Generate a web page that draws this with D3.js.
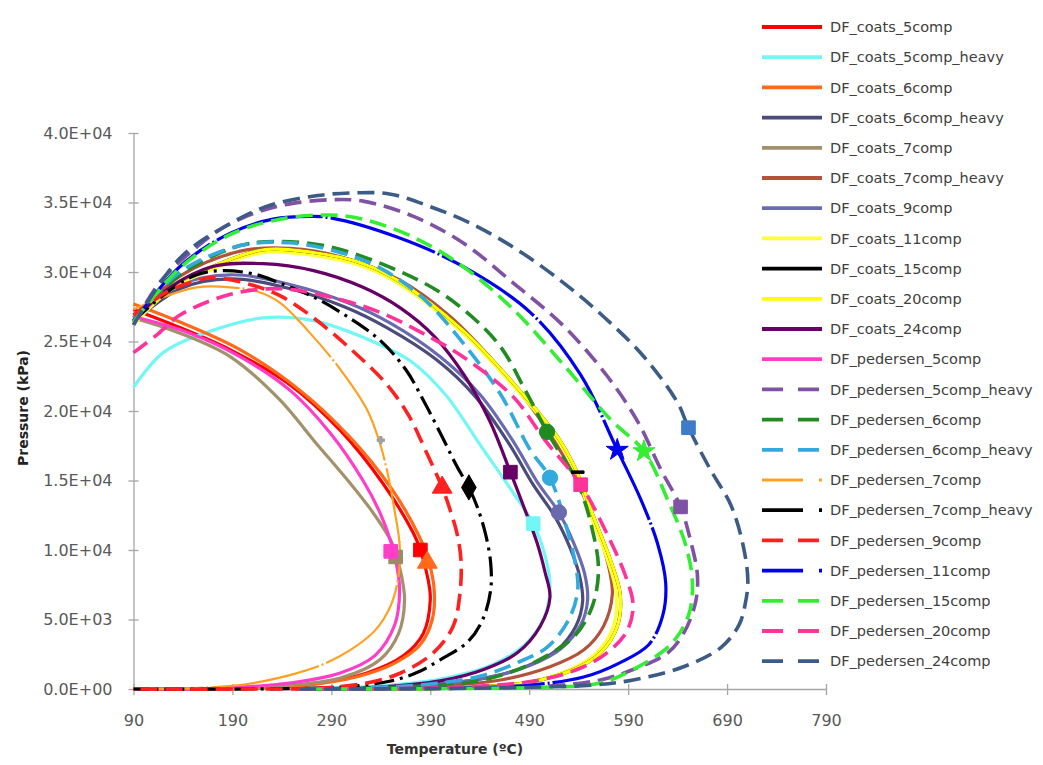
<!DOCTYPE html>
<html>
<head>
<meta charset="utf-8">
<script src="https://cdn.jsdelivr.net/npm/d3@7"></script>
<style>
  body { margin: 0; background: #fff; }
  text { font-family: "DejaVu Sans", sans-serif; }
</style>
</head>
<body>
<div id="chart"></div>
<script>
// Legend / series names, in drawing order
var seriesNames = [
  "DF_coats_5comp", "DF_coats_5comp_heavy", "DF_coats_6comp", "DF_coats_6comp_heavy",
  "DF_coats_7comp", "DF_coats_7comp_heavy", "DF_coats_9comp", "DF_coats_11comp",
  "DF_coats_15comp", "DF_coats_20comp", "DF_coats_24comp",
  "DF_pedersen_5comp", "DF_pedersen_5comp_heavy", "DF_pedersen_6comp", "DF_pedersen_6comp_heavy",
  "DF_pedersen_7comp", "DF_pedersen_7comp_heavy", "DF_pedersen_9comp", "DF_pedersen_11comp",
  "DF_pedersen_15comp", "DF_pedersen_20comp", "DF_pedersen_24comp"
];

// Phase envelopes: [temperature (C), pressure (kPa)]
var coats_5comp = [[90,27300],[137,26000],[188,24400],[248,21900],[299,18600],[342,14800],[373,11200],[380,10000],[388,7800],[390,6400],[383,4000],[363,2400],[326,1150],[279,430],[208,70],[90,0]];
var coats_5comp_heavy = [[90,21700],[120,24200],[170,25800],[221,26700],[272,26500],[322,25300],[370,23600],[405,21200],[441,17500],[474,14100],[494,11900],[506,9600],[511,7500],[506,5300],[486,3200],[451,1700],[400,720],[339,220],[258,0]];
var coats_6comp = [[90,27700],[137,26400],[198,24400],[258,21500],[309,18100],[350,14500],[378,11100],[388,9300],[394,7100],[392,5000],[380,3200],[355,1900],[319,940],[258,220],[157,0],[90,0]];
var coats_6comp_heavy = [[90,26400],[137,28800],[188,29500],[248,28800],[303,27500],[346,26000],[396,23700],[436,21000],[470,17600],[494,14700],[516,12400],[531,10200],[541,8100],[544,6300],[537,4500],[518,2800],[488,1650],[448,820],[387,270],[289,0]];
var coats_7comp = [[90,26700],[137,25600],[188,23900],[238,20800],[272,17900],[309,14800],[332,12700],[350,10700],[355,9800],[361,8100],[364,6400],[358,4000],[339,2100],[299,790],[238,220],[137,0]];
var coats_7comp_heavy = [[90,26700],[137,29700],[198,31500],[248,31700],[299,31100],[357,29500],[410,26800],[461,23000],[501,19400],[532,15800],[557,11800],[570,8900],[574,6800],[565,4500],[545,2800],[511,1600],[461,650],[380,140],[258,0]];
var coats_9comp = [[90,26700],[137,29100],[188,29800],[248,29100],[306,27800],[350,26300],[400,23900],[440,21200],[474,17800],[498,14900],[520,12700],[535,10500],[546,8300],[549,6400],[542,4600],[522,2900],[491,1700],[451,860],[390,290],[289,0]];
var coats_11comp = [[90,26200],[127,28700],[170,30200],[221,31400],[272,31200],[322,30400],[357,29200],[423,25600],[474,21800],[519,17900],[537,15600],[553,12300],[569,9300],[578,6800],[575,4500],[558,2600],[531,1400],[489,500],[410,70],[258,0]];
var coats_15comp = [[90,26400],[127,28900],[170,30400],[221,31600],[272,31400],[322,30600],[357,29400],[423,25800],[474,22000],[519,18100],[537,15800],[555,12400],[572,9300],[582,6800],[579,4500],[562,2600],[535,1400],[491,500],[410,70],[258,0]];
var coats_20comp = [[90,26400],[127,28900],[170,30400],[221,31600],[272,31400],[322,30600],[357,29400],[423,25800],[474,22000],[519,18100],[537,15800],[555,12400],[572,9300],[582,6800],[579,4500],[562,2600],[535,1400],[491,500],[410,70],[258,0]];
var coats_24comp = [[90,26500],[127,28900],[170,30400],[221,30600],[272,30100],[322,28900],[360,27400],[395,25300],[425,22500],[450,19300],[471,15600],[484,13200],[498,10500],[506,8400],[511,6600],[501,4500],[478,2600],[444,1400],[400,580],[339,140],[258,0]];

var pedersen_5comp = [[90,26800],[147,25600],[198,23900],[248,21500],[289,18400],[322,15000],[339,12700],[351,10400],[356,8900],[359,7100],[354,4600],[334,2400],[299,1150],[248,430],[178,70],[107,0]];
var pedersen_5comp_heavy = [[90,26200],[117,29300],[154,31800],[181,33200],[215,34300],[248,34900],[289,35200],[322,35100],[373,34000],[423,32100],[474,29200],[525,26100],[569,22500],[600,19200],[623,15800],[643,13100],[653,10700],[660,8200],[658,6200],[646,4000],[630,2600],[595,1400],[562,650],[511,220],[410,40],[258,0]];
var pedersen_6comp = [[90,26500],[137,29800],[198,31900],[238,32200],[289,31800],[357,30100],[407,28200],[458,24900],[486,21500],[508,18500],[539,14800],[554,11400],[560,8600],[554,6000],[537,3900],[508,2400],[471,1200],[431,500],[360,140],[258,0]];
var pedersen_6comp_heavy = [[90,26500],[137,30000],[198,31900],[248,32100],[299,31400],[339,30300],[383,28100],[423,24900],[461,21200],[491,17200],[511,15200],[527,11800],[537,8900],[539,7100],[530,5000],[508,3000],[478,1900],[441,940],[380,290],[258,0]];
var pedersen_7comp = [[90,27300],[120,28200],[154,28900],[188,28900],[215,28600],[238,27800],[266,25800],[299,23000],[326,20100],[339,17700],[346,15800],[353,13200],[359,10400],[358,8200],[350,6000],[334,4200],[309,2800],[279,1700],[248,1000],[205,360],[154,70],[107,0]];
var pedersen_7comp_heavy = [[90,26500],[127,28700],[154,29800],[181,30100],[215,29800],[238,29200],[272,28200],[306,26800],[339,25100],[365,23000],[385,20500],[403,18000],[417,16000],[429,14500],[438,13000],[446,11100],[451,9100],[451,7100],[443,5000],[428,3400],[400,2100],[377,1200],[350,580],[299,140],[208,0],[90,0]];
var pedersen_9comp = [[90,26900],[122,28500],[154,29400],[172,29600],[208,29100],[238,28300],[272,26700],[312,24300],[345,22000],[368,19700],[385,17200],[402,14500],[410,12900],[417,11200],[421,9300],[420,6900],[413,4500],[393,2600],[360,1150],[326,430],[279,70],[208,0],[90,0]];
var pedersen_11comp = [[90,26400],[137,30400],[188,32800],[231,33800],[269,34000],[289,33900],[357,32500],[423,30400],[491,27100],[542,22600],[579,17200],[603,13600],[620,10400],[628,7600],[625,5300],[611,3200],[582,1900],[545,860],[491,290],[410,70],[258,0]];
var pedersen_15comp = [[90,26400],[137,30300],[188,32700],[238,33800],[289,34100],[322,33800],[373,32500],[423,30400],[474,27300],[525,23300],[572,19400],[606,17100],[630,13600],[648,10400],[655,7600],[651,5300],[633,3200],[595,1400],[562,430],[511,140],[410,40],[258,0]];
var pedersen_20comp = [[90,24200],[114,25500],[137,26900],[188,28400],[238,28800],[289,28200],[339,27100],[390,25300],[423,23900],[474,21000],[506,17900],[542,14700],[567,11400],[587,8200],[595,6000],[589,4200],[572,2800],[545,1600],[501,650],[420,140],[258,0]];
var pedersen_24comp = [[90,26200],[137,31000],[188,33500],[228,34800],[276,35500],[316,35700],[350,35600],[390,34700],[431,33500],[478,31600],[525,29200],[565,26800],[606,23900],[640,20600],[651,18800],[673,15800],[694,13200],[706,10400],[711,7800],[708,6000],[702,4600],[684,3000],[646,1600],[595,650],[555,290],[501,140],[410,40],[258,0]];

var envelopes = [
  coats_5comp, coats_5comp_heavy, coats_6comp, coats_6comp_heavy, coats_7comp, coats_7comp_heavy,
  coats_9comp, coats_11comp, coats_15comp, coats_20comp, coats_24comp,
  pedersen_5comp, pedersen_5comp_heavy, pedersen_6comp, pedersen_6comp_heavy, pedersen_7comp,
  pedersen_7comp_heavy, pedersen_9comp, pedersen_11comp, pedersen_15comp, pedersen_20comp, pedersen_24comp
];

// Critical point of each envelope (null where no marker shows)
var criticalPoints = [
  [380,10000], [494,11900], [387,9100], null, [355,9500], null, [520,12700], null,
  [539,15600], null, [471,15600],
  [350,9900], [643,13100], [508,18500], [511,15200], [340,17900], [429,14500], [402,14500],
  [579,17200], [606,17100], [542,14700], [651,18800]
];

var xTicks = [90, 190, 290, 390, 490, 590, 690, 790];
var yTicks = [0, 5000, 10000, 15000, 20000, 25000, 30000, 35000, 40000];

// Styles
var seriesColors = [
  "#ff0000", "#72f6f6", "#ff6a1a", "#4b4b7c", "#a3916b", "#b4533b", "#6a6ab0", "#ffff33",
  "#000000", "#ffff00", "#660066",
  "#ff3dc8", "#8052a4", "#228b22", "#33aadd", "#ffa020", "#000000", "#ff2020",
  "#0000ee", "#33ee33", "#ff3399", "#3d5b87"
];
var markerColors = seriesColors.slice();
markerColors[4] = "#9c8b65"; markerColors[15] = "#a0a0a0"; markerColors[21] = "#3f7bc6"; markerColors[13] = "#1f8a1f";
var seriesDash = [
  "solid","solid","solid","solid","solid","solid","solid","solid","solid","solid","solid",
  "solid","dash","dash","dash","dashdot","dashdot","dash","dashdot","dash","dash","dash"
];
var markerShapes = [
  "square","square","triangle",null,"square",null,"circle",null,"bar",null,"square",
  "square","square","circle","circle","cross","diamond","triangle","star","star","square","square"
];

var width = 1043, height = 765;

var svg = d3.select("#chart")
  .append("svg")
  .attr("width", width)
  .attr("height", height);

svg.append("rect").attr("width", width).attr("height", height).attr("fill", "#fff");

var x = d3.scaleLinear().domain([90, 790]).range([133.5, 826]);
var y = d3.scaleLinear().domain([0, 40000]).range([689, 133]);

function fmtExp(v) {
  var parts = v.toExponential(1).toUpperCase().split("E");
  var e = parseInt(parts[1], 10);
  return parts[0] + "E" + (e < 0 ? "-" : "+") + String(Math.abs(e)).padStart(2, "0");
}

var axisColor = "#a6a6a6";

// Y axis
var gy = svg.append("g")
  .attr("transform", "translate(" + x(90) + ",0)")
  .call(d3.axisLeft(y).tickValues(yTicks).tickSize(0).tickSizeOuter(0).tickPadding(21).tickFormat(fmtExp));
gy.select(".domain").attr("stroke", axisColor).attr("stroke-width", 1.3);
gy.selectAll(".tick").append("line").attr("x1", -5).attr("x2", 5).attr("stroke", axisColor).attr("stroke-width", 1.3);
gy.selectAll("text").attr("fill", "#595959").style("font-size", "16px").style("font-family", "DejaVu Sans");

// X axis
var gx = svg.append("g")
  .attr("transform", "translate(0," + y(0) + ")")
  .call(d3.axisBottom(x).tickValues(xTicks).tickSize(0).tickSizeOuter(0).tickPadding(26).tickFormat(d3.format("d")));
gx.select(".domain").attr("stroke", axisColor).attr("stroke-width", 1.3);
gx.selectAll(".tick").append("line").attr("y1", -5).attr("y2", 6).attr("stroke", axisColor).attr("stroke-width", 1.3);
gx.selectAll("text").attr("fill", "#595959").style("font-size", "16px").style("font-family", "DejaVu Sans");

// Axis titles
svg.append("text")
  .attr("x", 455).attr("y", 754)
  .attr("text-anchor", "middle")
  .style("font-size", "14px").style("font-weight", "bold").attr("fill", "#333")
  .text("Temperature (ºC)");

svg.append("text")
  .attr("transform", "translate(28,408) rotate(-90)")
  .attr("text-anchor", "middle")
  .style("font-size", "14px").style("font-weight", "bold").attr("fill", "#222")
  .text("Pressure (kPa)");

// Line dash patterns
function chartDash(i) {
  if (seriesDash[i] == "dash") return "17,8";
  if (seriesDash[i] == "dashdot") {
    if (i == 16) return "20,6,3,6";
    return "110,3,2,3";
  }
  return null;
}
function legendDash(i) {
  if (seriesDash[i] == "dash") return "21,15";
  if (seriesDash[i] == "dashdot") return "41,16,3,20";
  return null;
}
function lineWidth(i) {
  if (i == 15) return 2.2;
  if (seriesDash[i] == "dash") return 3.6;
  return 3.2;
}

var line = d3.line()
  .x(function(d){ return x(d[0]); })
  .y(function(d){ return y(d[1]); })
  .curve(d3.curveCatmullRom.alpha(0.5));

var plot = svg.append("g");

plot.selectAll("path.env")
  .data(envelopes)
  .enter()
  .append("path")
  .attr("class", "env")
  .attr("d", line)
  .attr("fill", "none")
  .attr("stroke", function(d, i){ return seriesColors[i]; })
  .attr("stroke-width", function(d, i){ return lineWidth(i); })
  .attr("stroke-dasharray", function(d, i){ return chartDash(i); })
  .attr("stroke-linejoin", "round");

// Critical point markers
var barSymbol = {
  draw: function(ctx, size) {
    var w = Math.sqrt(size) * 0.9, h = 2.5;
    ctx.rect(-w / 2, -h / 2, w, h);
  }
};
var symbolTypes = {
  square: d3.symbolSquare, circle: d3.symbolCircle, triangle: d3.symbolTriangle,
  diamond: d3.symbolDiamond, star: d3.symbolStar, cross: d3.symbolCross, bar: barSymbol
};
var markerData = criticalPoints
  .map(function(p, i){ return {p: p, i: i}; })
  .filter(function(d){ return d.p && markerShapes[d.i]; });

plot.selectAll("path.crit")
  .data(markerData)
  .enter()
  .append("path")
  .attr("class", "crit")
  .attr("transform", function(d){ return "translate(" + x(d.p[0]) + "," + y(d.p[1]) + ")"; })
  .attr("d", function(d){
    var s = markerShapes[d.i];
    var size = 185;
    if (s == "cross") size = 30;
    if (s == "triangle") size = 170;
    if (s == "star") size = 150;
    if (s == "bar") size = 200;
    return d3.symbol().type(symbolTypes[s]).size(size)();
  })
  .attr("fill", function(d){ return markerColors[d.i]; })
  .attr("stroke", function(d){ return markerColors[d.i]; })
  .attr("stroke-width", 1);

// Legend
var legend = svg.append("g");
var leg = legend.selectAll("g")
  .data(seriesNames)
  .enter()
  .append("g")
  .attr("transform", function(d, i){ return "translate(0," + (27 + i * 30.2) + ")"; });

leg.append("line")
  .attr("x1", 762).attr("x2", 822)
  .attr("stroke", function(d, i){ return seriesColors[i]; })
  .attr("stroke-width", function(d, i){ return i == 15 ? 3 : 3.8; })
  .attr("stroke-dasharray", function(d, i){ return legendDash(i); });

leg.append("text")
  .attr("x", 830).attr("dy", "0.36em")
  .style("font-size", "14.5px")
  .attr("fill", "#404040")
  .text(function(d){ return d; });
</script>
</body>
</html>
